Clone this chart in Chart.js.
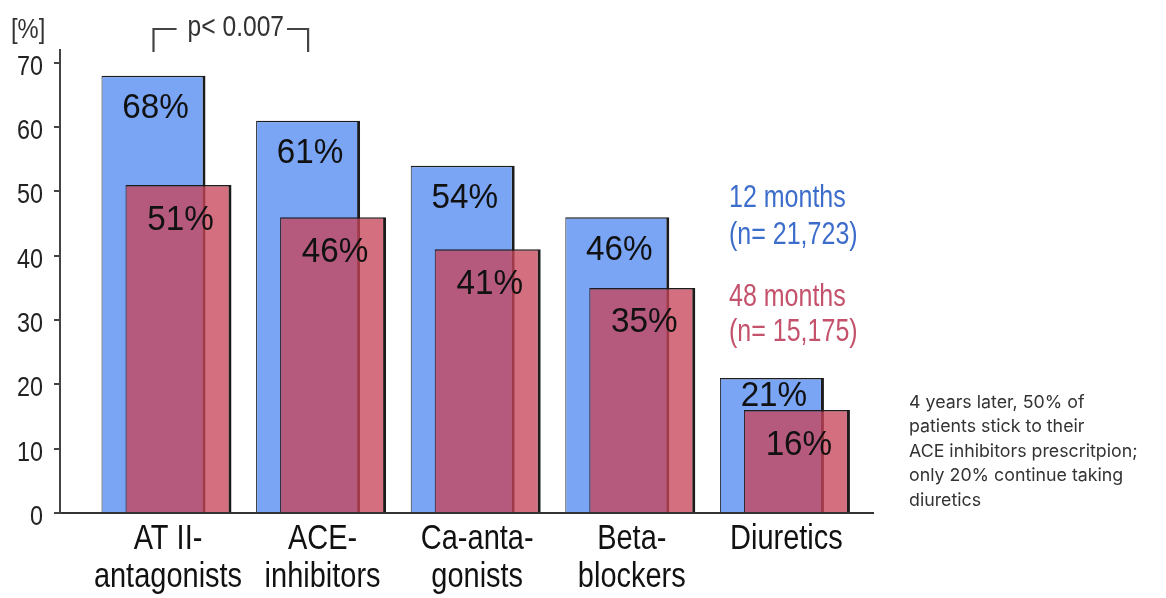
<!DOCTYPE html>
<html>
<head>
<meta charset="utf-8">
<script src="https://cdn.jsdelivr.net/npm/chart.js@4/dist/chart.umd.min.js"></script>
<style>
  html, body { margin: 0; padding: 0; background: #fff; }
  #wrap { position: relative; width: 1166px; height: 598px; overflow: hidden; }
  #note {
    position: absolute; left: 909px; top: 390px; width: 255px;
    font-family: Inter, Roboto, sans-serif; font-size: 17.8px;
    line-height: 24.4px; color: #333;
  }
</style>
</head>
<body>
<div id="wrap">
  <canvas id="chart" width="1166" height="598"></canvas>
  <div id="note">4 years later, 50% of<br>patients stick to their<br>ACE inhibitors prescritpion;<br>only 20% continue taking<br>diuretics</div>
</div>
<script>
// Drug classes (two-line labels) and persistence rates in percent
const categories = [['AT II-', 'antagonists'], ['ACE-', 'inhibitors'], ['Ca-anta-', 'gonists'], ['Beta-', 'blockers'], ['Diuretics']];
const months12 = [68, 61, 54, 46, 21];
const months48 = [51, 46, 41, 35, 16];
const seriesNames = ['12 months', '48 months'];
const seriesCounts = ['(n= 21,723)', '(n= 15,175)'];
const yTicks = [0, 10, 20, 30, 40, 50, 60, 70];
const yUnit = '[%]';
const pValueText = 'p< 0.007';

const SANS = "'Liberation Sans', Arial, sans-serif";
const BLUE_FILL = '#7aa5f5';
const RED_FILL = 'rgba(199, 68, 89, 0.77)';
const EDGE = '#1c1c1c';
const BLUE_TEXT = '#3d6dcb';
const RED_TEXT = '#c4526c';

// One category unit in pixels; the 12- and 48-month bars sit either side of the category centre
const chartLeft = 60, chartRight = 873, chartTop = 50, chartBottom = 513;
const unitPx = 154.6;
const groupCentre0 = 166, halfShift = 12.5;
function rangeFor(centre0) {
  const min = (chartLeft - centre0) / unitPx;
  return { min, max: min + (chartRight - chartLeft) / unitPx };
}
const labelRange = rangeFor(groupCentre0);
const blueRange = rangeFor(groupCentre0 - halfShift);
const redRange = rangeFor(groupCentre0 + halfShift);

// condensed lettering: regular sans squeezed horizontally
function narrowText(ctx, text, x, y, size, sx, align, color) {
  ctx.save();
  ctx.font = `${size}px ${SANS}`;
  ctx.fillStyle = color;
  ctx.textAlign = align;
  ctx.textBaseline = 'alphabetic';
  ctx.translate(x, y);
  ctx.scale(sx, 1);
  ctx.fillText(text, 0, 0);
  ctx.restore();
}
function narrowWidth(ctx, text, size, sx) {
  ctx.save();
  ctx.font = `${size}px ${SANS}`;
  const w = ctx.measureText(text).width * sx;
  ctx.restore();
  return w;
}

const annotations = {
  id: 'annotations',
  afterDraw(chart) {
    const ctx = chart.ctx;
    const area = chart.chartArea;
    const blueMeta = chart.getDatasetMeta(0);
    const redMeta = chart.getDatasetMeta(1);
    const xs = chart.scales.x, ys = chart.scales.y;

    // value-axis tick labels
    ys.ticks.forEach((t) => {
      narrowText(ctx, String(t.value), 43, ys.getPixelForValue(t.value) + 12, 28.5, 0.82, 'right', '#222');
    });
    // category labels
    xs.ticks.forEach((t) => {
      const lines = categories[t.value];
      const x = xs.getPixelForValue(t.value) + 2;
      lines.forEach((line, k) => {
        narrowText(ctx, line, x, area.bottom + 36 + k * 38, 34.5, 0.84, 'center', '#111');
      });
    });

    // value labels on the bars
    blueMeta.data.forEach((bar, i) => {
      const redTop = redMeta.data[i].y;
      const yc = Math.min(bar.y + 30, redTop - 17);
      narrowText(ctx, months12[i] + '%', bar.x + 2, yc + 12.5, 35, 0.95, 'center', '#111');
    });
    redMeta.data.forEach((bar, i) => {
      narrowText(ctx, months48[i] + '%', bar.x + 2, bar.y + 32 + 12.5, 35, 0.95, 'center', '#111');
    });

    // unit label above the value axis
    narrowText(ctx, yUnit, 11, 38, 27, 0.88, 'left', '#333');

    // significance bracket between the first two 12-month bars
    const x1 = blueMeta.data[0].x, x2 = blueMeta.data[1].x;
    const yLine = area.top - 21, yFoot = area.top + 2;
    const tw = narrowWidth(ctx, pValueText, 30, 0.82);
    const tx = (x1 + x2) / 2 + 5;
    narrowText(ctx, pValueText, tx, yLine + 7, 30, 0.82, 'center', '#333');
    ctx.save();
    ctx.strokeStyle = '#444';
    ctx.lineWidth = 2.2;
    ctx.beginPath();
    ctx.moveTo(x1, yFoot); ctx.lineTo(x1, yLine); ctx.lineTo(tx - tw / 2 - 11, yLine);
    ctx.moveTo(tx + tw / 2 + 3, yLine); ctx.lineTo(x2, yLine); ctx.lineTo(x2, yFoot);
    ctx.stroke();
    ctx.restore();

    // series key
    const keyX = 729;
    narrowText(ctx, seriesNames[0], keyX, 207, 30.5, 0.82, 'left', BLUE_TEXT);
    narrowText(ctx, seriesCounts[0], keyX, 244, 30.5, 0.82, 'left', BLUE_TEXT);
    narrowText(ctx, seriesNames[1], keyX, 306, 30.5, 0.82, 'left', RED_TEXT);
    narrowText(ctx, seriesCounts[1], keyX, 341, 30.5, 0.82, 'left', RED_TEXT);
  }
};

const hiddenAxis = (r) => ({ type: 'linear', display: false, offset: false, min: r.min, max: r.max });

new Chart(document.getElementById('chart'), {
  type: 'bar',
  data: {
    datasets: [
      {
        label: seriesNames[0],
        data: months12.map((v, i) => ({ x: i, y: v })),
        xAxisID: 'xb',
        grouped: false,
        categoryPercentage: 1,
        barPercentage: 104 / unitPx,
        backgroundColor: BLUE_FILL,
        borderColor: EDGE,
        borderWidth: { top: 1.5, left: 1, right: 3, bottom: 0 },
        order: 2
      },
      {
        label: seriesNames[1],
        data: months48.map((v, i) => ({ x: i, y: v })),
        xAxisID: 'xr',
        grouped: false,
        categoryPercentage: 1,
        barPercentage: 106 / unitPx,
        backgroundColor: RED_FILL,
        borderColor: EDGE,
        borderWidth: { top: 1.5, left: 1, right: 3, bottom: 0 },
        order: 1
      }
    ]
  },
  options: {
    responsive: false,
    animation: false,
    devicePixelRatio: 1,
    layout: { padding: { top: chartTop, right: 1166 - chartRight, left: 0, bottom: 0 } },
    plugins: { legend: { display: false }, tooltip: { enabled: false } },
    scales: {
      x: {
        type: 'linear',
        position: 'bottom',
        offset: false,
        min: labelRange.min,
        max: labelRange.max,
        afterBuildTicks: (s) => { s.ticks = categories.map((c, i) => ({ value: i })); },
        afterFit: (s) => { s.height = 598 - chartBottom; },
        grid: { display: false },
        border: { display: true, color: '#333', width: 2 },
        ticks: { display: false }
      },
      xb: hiddenAxis(blueRange),
      xr: hiddenAxis(redRange),
      y: {
        min: 0,
        max: 72,
        afterBuildTicks: (s) => { s.ticks = yTicks.map(v => ({ value: v })); },
        afterFit: (s) => { s.width = chartLeft; },
        grid: { drawOnChartArea: false, drawTicks: true, tickLength: 6, color: '#444', lineWidth: 2 },
        border: { display: true, color: '#444', width: 2 },
        ticks: { display: false }
      }
    }
  },
  plugins: [annotations]
});
</script>
</body>
</html>
